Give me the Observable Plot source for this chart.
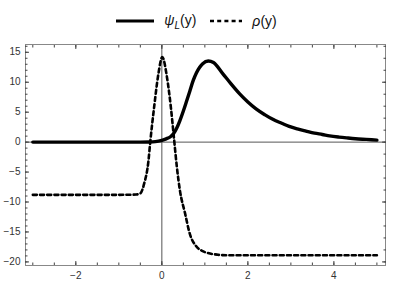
<!DOCTYPE html>
<html>
<head>
<meta charset="utf-8">
<script src="https://cdn.jsdelivr.net/npm/d3@7"></script>
<script src="https://cdn.jsdelivr.net/npm/@observablehq/plot@0.6"></script>
<style>
  body { margin: 0; background: #fff; font-family: "Liberation Sans", Arial, sans-serif; }
  #legend { height: 34px; display: flex; justify-content: center; align-items: center; font-size: 14px; color: #111; padding-top: 8px; box-sizing: border-box; }
  #legend .item { display: flex; align-items: center; margin: 0 6px; }
  #legend svg { margin-right: 10px; }
  #chart svg { display: block; }
</style>
</head>
<body>
<div id="legend"></div>
<div id="chart"></div>
<script>
// ψ_L(y)
const psiX = [-3, -1, -0.5, -0.3, -0.15, 0, 0.1, 0.2, 0.27, 0.35, 0.42, 0.5, 0.58, 0.65, 0.73, 0.8, 0.88, 0.95, 1.08, 1.2, 1.42, 1.6, 1.81, 2.0, 2.19, 2.4, 2.58, 2.8, 2.96, 3.15, 3.35, 3.55, 3.73, 3.9, 4.12, 4.3, 4.5, 4.75, 5.0];
const psiY = [0, 0, 0.0, 0.02, 0.08, 0.3, 0.55, 0.9, 1.4, 2.4, 3.6, 5.2, 6.95, 8.5, 10.3, 11.5, 12.5, 13.1, 13.55, 13.3, 11.4, 9.8, 8.05, 6.7, 5.55, 4.55, 3.8, 3.1, 2.62, 2.2, 1.84, 1.5, 1.28, 1.05, 0.84, 0.7, 0.56, 0.45, 0.34];
// ρ(y)
const rhoX = [-3, -1, -0.6, -0.5, -0.41, -0.31, -0.27, -0.18, -0.08, 0.01, 0.12, 0.21, 0.28, 0.35, 0.42, 0.54, 0.65, 0.8, 0.95, 1.12, 1.3, 1.5, 2, 3, 4, 5];
const rhoY = [-8.8, -8.8, -8.75, -8.55, -6.9, -3.05, 0, 5.8, 11.4, 14.2, 10.8, 5.8, 0.8, -4.2, -8.05, -11.9, -15.3, -17.4, -18.2, -18.6, -18.8, -18.9, -18.9, -18.9, -18.9, -18.9];

const seriesNames = ["ψ_L(y)", "ρ(y)"];
const xMajor = [-2, 0, 2, 4];
const xMinor = [-3, -2.5, -2, -1.5, -1, -0.5, 0, 0.5, 1, 1.5, 2, 2.5, 3, 3.5, 4, 4.5, 5];
const yMajor = [-20, -15, -10, -5, 0, 5, 10, 15];
const yMinor = d3.range(-20, 17, 1);
const yRight = d3.range(-20, 17, 2);
const yRightMajor = [-20, -10, 0, 10];

const psi = psiX.map((x, i) => ({x, y: psiY[i]}));
const rho = rhoX.map((x, i) => ({x, y: rhoY[i]}));

// legend
const legend = document.getElementById("legend");
legend.innerHTML = `
  <div class="item"><svg width="38" height="6"><line x1="0" y1="3" x2="38" y2="3" stroke="#000" stroke-width="3.2"/></svg><span><i>ψ<sub style="font-size:10px">L</sub></i>(y)</span></div>
  <div class="item" style="margin-left:8px"><svg width="32" height="6"><line x1="0" y1="3" x2="32" y2="3" stroke="#000" stroke-width="2.6" stroke-dasharray="4,3.2"/></svg><span><i>ρ</i>(y)</span></div>`;

const tickColor = "#444";
const chart = Plot.plot({
  width: 393,
  height: 255,
  marginLeft: 25,
  marginRight: 8,
  marginTop: 10,
  marginBottom: 24,
  x: {domain: [-3.17, 5.2], label: null},
  y: {domain: [-20.6, 16.3], label: null},
  style: {fontFamily: "Liberation Sans, Arial, sans-serif", fontSize: "10px", color: "#333"},
  marks: [
    Plot.ruleX([0], {stroke: "#555", strokeWidth: 1}),
    Plot.ruleY([0], {stroke: "#555", strokeWidth: 1}),
    Plot.line(rho, {x: "x", y: "y", stroke: "#000", strokeWidth: 2.6, strokeDasharray: "4,3.2", curve: "monotone-x"}),
    Plot.line(psi, {x: "x", y: "y", stroke: "#000", strokeWidth: 3.4, curve: "monotone-x"}),
    Plot.frame({stroke: "#888", strokeWidth: 1}),
    // bottom
    Plot.axisX(xMajor, {anchor: "bottom", label: null, tickSize: -4, tickPadding: 10, stroke: tickColor, strokeOpacity: 1, fill: "#333"}),
    Plot.axisX(xMinor, {anchor: "bottom", label: null, tickSize: -2.5, tickFormat: () => "", stroke: tickColor, strokeOpacity: 1}),
    // top
    Plot.axisX(xMinor, {anchor: "top", label: null, tickSize: -2.5, tickFormat: () => "", stroke: tickColor, strokeOpacity: 1}),
    Plot.axisX(xMajor, {anchor: "top", label: null, tickSize: -4, tickFormat: () => "", stroke: tickColor, strokeOpacity: 1}),
    // left
    Plot.axisY(yMajor, {anchor: "left", label: null, tickSize: -4, tickPadding: 9, stroke: tickColor, strokeOpacity: 1, fill: "#333"}),
    Plot.axisY(yMinor, {anchor: "left", label: null, tickSize: -2.5, tickFormat: () => "", stroke: tickColor, strokeOpacity: 1}),
    // right
    Plot.axisY(yRight, {anchor: "right", label: null, tickSize: -2.5, tickFormat: () => "", stroke: tickColor, strokeOpacity: 1}),
    Plot.axisY(yRightMajor, {anchor: "right", label: null, tickSize: -4, tickFormat: () => "", stroke: tickColor, strokeOpacity: 1})
  ]
});
document.getElementById("chart").appendChild(chart);
</script>
</body>
</html>
